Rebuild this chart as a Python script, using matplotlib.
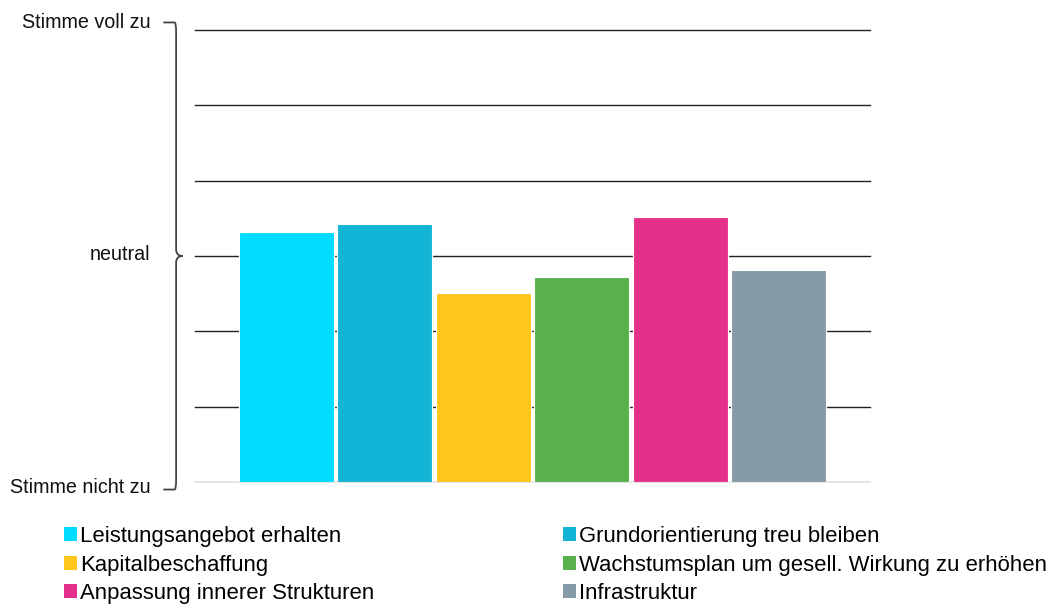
import matplotlib
matplotlib.use("Agg")
import matplotlib.pyplot as plt
from matplotlib.path import Path
from matplotlib.patches import PathPatch, Patch
import matplotlib.transforms as mtransforms

plt.rcParams['font.family'] = ['Liberation Sans', 'DejaVu Sans']

categories = [
    "Leistungsangebot erhalten",
    "Grundorientierung treu bleiben",
    "Kapitalbeschaffung",
    "Wachstumsplan um gesell. Wirkung zu erhöhen",
    "Anpassung innerer Strukturen",
    "Infrastruktur",
]
values = [4.32, 4.42, 3.51, 3.72, 4.52, 3.82]
colors = ["#00DDFF", "#13B5D6", "#FFC61C", "#58B14D", "#E5308B", "#869BA8"]
scale_ticks = [1, 4, 7]
scale_labels = ["Stimme nicht zu", "neutral", "Stimme voll zu"]
grid_levels = [1, 2, 3, 4, 5, 6, 7]

fig = plt.figure(figsize=(10.5, 6.04), dpi=100)
ax = fig.add_axes([195/1050, 1-482/604, 675/1050, 452/604])

x = list(range(len(categories)))
ax.bar(x, [v - 1 for v in values], bottom=1, width=0.965, color=colors,
       edgecolor="white", linewidth=0.8, zorder=3)

for g in grid_levels:
    col = "#dddddd" if g == 1 else "#222222"
    ax.axhline(g, color=col, linewidth=1.1 if g == 1 else 1.0, zorder=1, clip_on=False)

ax.set_xlim(-0.93, 5.93)
ax.set_ylim(1, 7)
for s in ax.spines.values():
    s.set_visible(False)
ax.set_xticks([])
ax.set_yticks([])

# scale labels
trans = mtransforms.blended_transform_factory(ax.transAxes, ax.transData)
offsets = {1: -0.07, 4: 0.02, 7: 0.1}
for t, lab in zip(scale_ticks, scale_labels):
    ax.text(-0.066, t + offsets[t], lab, transform=trans, ha="right", va="center",
            fontsize=14.2, color="#111111")

# curly brace "}"
bx = -0.028
hx = -0.047
cx = -0.018
verts = [
    (hx, 7.1), (bx - 0.002, 7.1), (bx, 7.09), (bx, 6.98),
    (bx, 4.09), (bx, 4.0), (cx, 4.0),
    (bx, 4.0), (bx, 3.91),
    (bx, 1.02), (bx, 0.91), (bx - 0.002, 0.9), (hx, 0.9),
]
codes = [Path.MOVETO, Path.LINETO, Path.CURVE3, Path.CURVE3,
         Path.LINETO, Path.CURVE3, Path.CURVE3,
         Path.CURVE3, Path.CURVE3,
         Path.LINETO, Path.CURVE3, Path.CURVE3, Path.LINETO]
brace = PathPatch(Path(verts, codes), transform=trans, fill=False,
                  edgecolor="#444444", linewidth=1.3, clip_on=False)
ax.add_patch(brace)

# legend (row-major order)
handles = [Patch(facecolor=c, edgecolor="none") for c in colors]
order = [0, 2, 4, 1, 3, 5]
leg = fig.legend([handles[i] for i in order], [categories[i] for i in order],
                 ncol=2, loc="upper left", bbox_to_anchor=(64/1050, 1-526/604),
                 frameon=False, fontsize=15.9, handlelength=0.58, handleheight=0.63,
                 handletextpad=0.15, columnspacing=8.55, labelspacing=0.34,
                 borderaxespad=0, borderpad=0)

fig.savefig("out.png", dpi=100)
